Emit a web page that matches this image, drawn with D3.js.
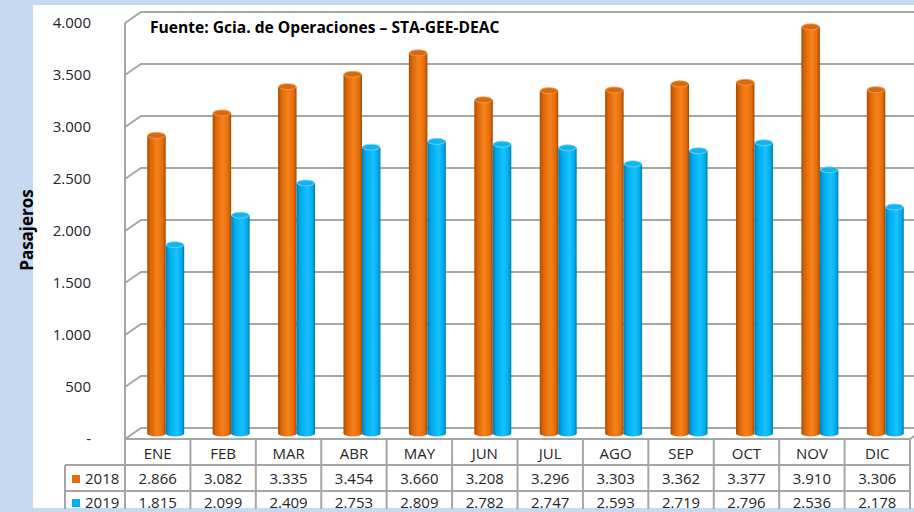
<!DOCTYPE html>
<html>
<head>
<meta charset="utf-8">
<script src="https://cdn.jsdelivr.net/npm/d3@7"></script>
<style>
  html, body { margin: 0; padding: 0; background: #c6d9f1; }
  svg { display: block; }
</style>
</head>
<body>
<div class="container"></div>
<script>
// data
const months = ["ENE", "FEB", "MAR", "ABR", "MAY", "JUN", "JUL", "AGO", "SEP", "OCT", "NOV", "DIC"];
const series = ["2018", "2019"];
const pax2018 = [2866, 3082, 3335, 3454, 3660, 3208, 3296, 3303, 3362, 3377, 3910, 3306];
const pax2019 = [1815, 2099, 2409, 2753, 2809, 2782, 2747, 2593, 2719, 2796, 2536, 2178];
const yTicks = [0, 500, 1000, 1500, 2000, 2500, 3000, 3500, 4000];
const sourceText = "Fuente: Gcia. de Operaciones – STA-GEE-DEAC";
const yTitle = "Pasajeros";

const W = 914, H = 512;
const depthX = 16, depthY = 11;
const font = "'Open Sans', 'Noto Sans', sans-serif";
const grid = "#a6a6a6";

const locale = d3.formatLocale({decimal: ",", thousands: ".", grouping: [3], currency: ["", ""]});
const fmt = v => v === 0 ? "-" : locale.format(",")(v);

const svg = d3.select(".container").append("svg")
  .attr("width", W).attr("height", H);

// white chart panel on the light blue page
svg.append("rect").attr("x", 33).attr("y", 5).attr("width", W - 33).attr("height", 503).attr("fill", "#fff");

const y = d3.scaleLinear().domain([0, 4000]).range([439, 23]);
const x = d3.scaleBand().domain(months).range([125, 910]);
const inner = d3.scaleBand().domain(series).range([0, x.bandwidth()]).paddingInner(0).paddingOuter(0.77);

const defs = svg.append("defs");
function grad(id, stops) {
  const g = defs.append("linearGradient").attr("id", id).attr("x1", 0).attr("x2", 1).attr("y1", 0).attr("y2", 0);
  stops.forEach(s => g.append("stop").attr("offset", s[0]).attr("stop-color", s[1]));
}
grad("g2018", [[0, "#a84c00"], [0.18, "#dc6607"], [0.55, "#f6821c"], [0.85, "#e36c0a"], [1, "#a04800"]]);
grad("g2019", [[0, "#007db8"], [0.2, "#00a9ea"], [0.6, "#18c2ff"], [0.88, "#00a8e8"], [1, "#0078b0"]]);
const topFill = {"2018": "#dc680c", "2019": "#10b4f0"};
const topStroke = {"2018": "#f0a060", "2019": "#80dafa"};

// walls and gridlines
const gridG = svg.append("g").attr("fill", "none").attr("stroke", grid).attr("stroke-width", 2);
gridG.selectAll("path.grid")
  .data(yTicks)
  .enter()
  .append("path")
  .attr("class", "grid")
  .attr("d", t => `M${x.range()[0]},${y(t)}L${x.range()[0] + depthX},${y(t) - depthY}L${W + 2},${y(t) - depthY}`);
gridG.append("path")
  .attr("d", `M${x.range()[0]},${y(4000)}V${y(0)}H${x.range()[1]}L${x.range()[1] + depthX},${y(0) - depthY}`);

// y axis labels
const yAxis = svg.append("g")
  .attr("transform", "translate(91,0)")
  .call(d3.axisLeft(y).tickValues(yTicks).tickFormat(fmt).tickSize(0).tickPadding(0));
yAxis.select(".domain").remove();
yAxis.selectAll("text")
  .attr("font-family", font).attr("font-size", "15px").attr("fill", "#262626").attr("dy", "0.28em");

// cylinders
const rows = [pax2018, pax2019];
const bars = [];
months.forEach((m, i) => series.forEach((s, k) => bars.push({month: m, series: s, value: rows[k][i]})));

const bw = inner.bandwidth();
const ry = 3;
const cyl = svg.append("g").selectAll("g.bar")
  .data(bars)
  .enter()
  .append("g")
  .attr("class", "bar")
  .attr("transform", d => `translate(${x(d.month) + inner(d.series) + depthX / 2},${-depthY / 2})`);

cyl.append("ellipse")
  .attr("cx", bw / 2).attr("cy", y(0)).attr("rx", bw / 2).attr("ry", ry)
  .attr("fill", d => `url(#g${d.series})`);
cyl.append("rect")
  .attr("x", 0).attr("width", bw)
  .attr("y", d => y(d.value))
  .attr("height", d => y(0) - y(d.value))
  .attr("fill", d => `url(#g${d.series})`);
cyl.append("ellipse")
  .attr("cx", bw / 2).attr("cy", d => y(d.value)).attr("rx", bw / 2 - 0.5).attr("ry", ry)
  .attr("fill", d => topFill[d.series])
  .attr("stroke", d => topStroke[d.series]).attr("stroke-width", 0.8);

// source note
svg.append("text")
  .attr("x", 150).attr("y", 33)
  .attr("font-family", font).attr("font-weight", "bold").attr("font-size", "15.6px").attr("fill", "#000")
  .text(sourceText);

// axis title
svg.append("text")
  .attr("transform", "translate(33,230) rotate(-90)")
  .attr("text-anchor", "middle")
  .attr("font-family", font).attr("font-weight", "bold").attr("font-size", "17px").attr("fill", "#000")
  .text(yTitle);

// data table
const rowTop = [439, 465, 491];
const rowText = [454, 479, 503];
const legendX = 65;
const table = svg.append("g");
const lines = table.append("g").attr("stroke", grid).attr("stroke-width", 2).attr("fill", "none");
lines.append("path").attr("d", `M${x.range()[0]},${rowTop[0]}H${x.range()[1]}`);
lines.append("path").attr("d", `M${legendX},${rowTop[1]}H${x.range()[1]}M${legendX},${rowTop[2]}H${x.range()[1]}`);
lines.append("path").attr("d", `M${legendX},${rowTop[1]}V${H}`);
lines.selectAll("path.col")
  .data(months.concat(["end"]))
  .enter()
  .append("path")
  .attr("class", "col")
  .attr("d", (m, i) => {
    const cx = i < months.length ? x(m) : x.range()[1];
    return `M${cx},${rowTop[0]}V${H}`;
  });

table.selectAll("text.month")
  .data(months)
  .enter()
  .append("text")
  .attr("class", "month")
  .attr("x", m => x(m) + x.bandwidth() / 2)
  .attr("y", rowText[0])
  .attr("dy", "0.35em")
  .attr("text-anchor", "middle")
  .attr("font-family", font).attr("font-size", "15px").attr("fill", "#262626")
  .text(m => m);

const legendColor = {"2018": "#e36c0a", "2019": "#00b0f0"};
series.forEach((s, k) => {
  const cy = rowText[k + 1];
  table.append("rect")
    .attr("x", 72).attr("y", cy - 4).attr("width", 8).attr("height", 8)
    .attr("fill", legendColor[s]);
  table.append("text")
    .attr("x", 85).attr("y", cy).attr("dy", "0.35em")
    .attr("font-family", font).attr("font-size", "15px").attr("fill", "#262626")
    .text(s);
  table.selectAll("text.v" + s)
    .data(rows[k])
    .enter()
    .append("text")
    .attr("class", "v" + s)
    .attr("x", (v, i) => x(months[i]) + x.bandwidth() / 2)
    .attr("y", cy).attr("dy", "0.35em")
    .attr("text-anchor", "middle")
    .attr("font-family", font).attr("font-size", "15px").attr("fill", "#262626")
    .text(v => fmt(v));
});

// light blue band along the bottom edge
svg.append("rect").attr("x", 0).attr("y", 509).attr("width", W).attr("height", 3).attr("fill", "#c6d9f1");
</script>
</body>
</html>
